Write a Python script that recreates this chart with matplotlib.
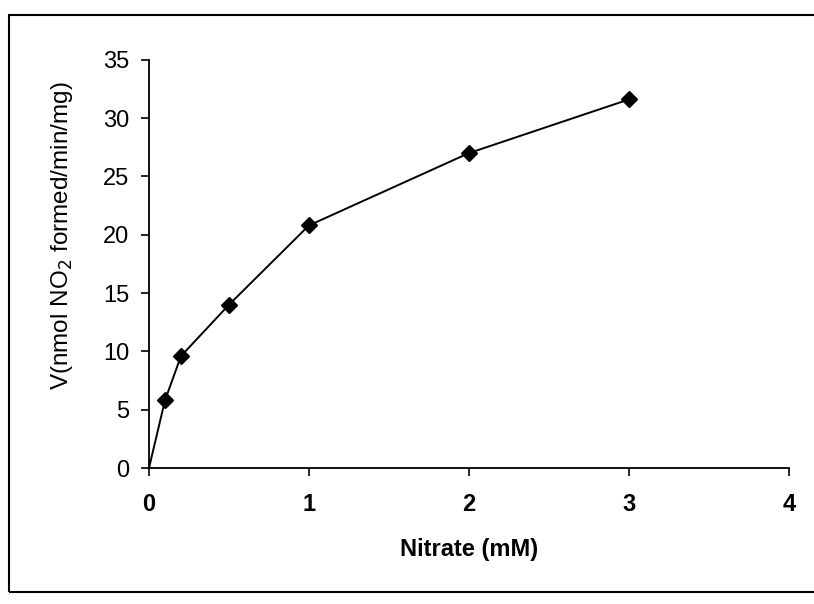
import matplotlib
matplotlib.use("Agg")
import matplotlib.pyplot as plt
from matplotlib.patches import Rectangle

# nitrate concentration (mM) vs rate
nitrate = [0, 0.1, 0.2, 0.5, 1, 2, 3]
rate = [0, 5.8, 9.6, 14.0, 20.8, 27.0, 31.6]
xticks = [0, 1, 2, 3, 4]
yticks = [0, 5, 10, 15, 20, 25, 30, 35]

plt.rcParams['font.family'] = ['Liberation Sans', 'DejaVu Sans']

fig = plt.figure(figsize=(8.14, 6.04), dpi=100)
ax = fig.add_axes([0.183, 0.225, 0.786, 0.676])

# line through the origin, markers only on the measured points
ax.plot(nitrate, rate, color='black', lw=1.4)
ax.plot(nitrate[1:], rate[1:], linestyle='none', marker='D', color='black',
        markersize=8.5)

ax.set_xlim(0, 4)
ax.set_ylim(0, 35)
ax.set_xticks(xticks)
ax.set_yticks(yticks)
ax.tick_params(axis='both', direction='out', length=6, width=1.2, labelsize=17, colors='black')
ax.tick_params(axis='y', pad=8)
ax.tick_params(axis='x', pad=12)
for lbl in ax.get_xticklabels():
    lbl.set_fontweight('bold')

ax.spines['top'].set_visible(False)
ax.spines['right'].set_visible(False)
ax.spines['left'].set_linewidth(1.3)
ax.spines['bottom'].set_linewidth(1.3)

ax.set_xlabel('Nitrate (mM)', fontsize=17, fontweight='bold', labelpad=16)
ax.set_ylabel('V(nmol NO$_2$ formed/min/mg)', fontsize=17.5)
ax.yaxis.set_label_coords(-0.115, 0.57)

# frame around the whole figure
fig.patches.append(Rectangle((0.011, 0.02), 0.995, 0.955, transform=fig.transFigure,
                             fill=False, edgecolor='black', linewidth=1.5))

fig.savefig('out.png', dpi=100)
